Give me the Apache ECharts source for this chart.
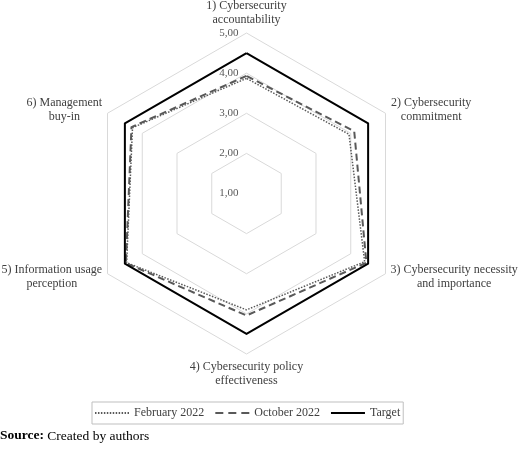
<!DOCTYPE html>
<html>
<head>
<meta charset="utf-8">
<script src="https://cdn.jsdelivr.net/npm/echarts@6/dist/echarts.min.js"></script>
<style>
  html, body { margin: 0; padding: 0; background: #fff; }
  #chart { width: 520px; height: 452px; }
</style>
</head>
<body>
<div id="chart"></div>
<script>
var categories = [
  '1) Cybersecurity\naccountability',
  '2) Cybersecurity\ncommitment',
  '3) Cybersecurity necessity\nand importance',
  '4) Cybersecurity policy\neffectiveness',
  '5) Information usage\nperception',
  '6) Management\nbuy-in'
];
var feb2022 = [3.87, 3.95, 4.40, 3.90, 4.45, 4.28];
var oct2022 = [3.93, 4.10, 4.45, 4.04, 4.47, 4.31];
var target = [4.50, 4.50, 4.50, 4.50, 4.50, 4.50];
var seriesNames = ['February 2022', 'October 2022', 'Target'];
var scaleMin = 1, scaleMax = 5;

(function () {
  var myChart = echarts.init(document.getElementById('chart'));
  var serif = '"Liberation Serif", "DejaVu Serif", serif';

  // echarts runs indicators counter-clockwise, the picture goes clockwise
  var order = [0, 5, 4, 3, 2, 1];
  function pick(arr) { return order.map(function (i) { return arr[i]; }); }

  // block width of the side labels so that their lines are centred
  var nameWidth = [0, 81, 127, 0, 101, 76];

  var indicator = order.map(function (i, k) {
    return {
      name: categories[i],
      min: scaleMin,
      max: scaleMax,
      axisLabel: { show: k === 0 }
    };
  });

  function dots(w, h, on, off) {
    var p = 'path://';
    for (var x = 0; x < w; x += on + off) {
      p += 'M' + x + ',0h' + on + 'v' + h + 'h-' + on + 'z';
    }
    return p;
  }

  var option = {
    animation: false,
    title: {
      text: '{b|Source:} Created by authors',
      left: 0,
      top: 429,
      padding: 0,
      textStyle: {
        fontFamily: serif,
        fontSize: 13.5,
        fontWeight: 'normal',
        color: '#000',
        rich: {
          b: { fontFamily: serif, fontSize: 13.5, fontWeight: 'bold', color: '#000' }
        }
      }
    },
    legend: {
      left: 92,
      top: 402,
      padding: [5, 3],
      itemGap: 11,
      itemWidth: 34,
      itemHeight: 2,
      borderColor: '#bfbfbf',
      borderWidth: 1,
      textStyle: { fontFamily: serif, fontSize: 12, color: '#404040' },
      itemStyle: { borderWidth: 0 },
      data: [
        { name: seriesNames[0], icon: dots(34, 2, 1.5, 1.5) },
        { name: seriesNames[1], icon: 'path://M0,0h8v2h-8z M13,0h8v2h-8z M26,0h8v2h-8z' },
        { name: seriesNames[2], icon: 'path://M0,0h34v2h-34z' }
      ]
    },
    radar: {
      center: [246.5, 193.5],
      radius: 160.5,
      startAngle: 90,
      splitNumber: 4,
      shape: 'polygon',
      indicator: indicator,
      nameGap: 6,
      axisName: {
        color: '#404040',
        fontFamily: serif,
        fontSize: 12,
        lineHeight: 14,
        formatter: function (name) {
          var idx = categories.indexOf(name);
          if (!nameWidth[idx]) return name;
          return name.split('\n').map(function (line) {
            return '{w' + idx + '|' + line + '}';
          }).join('\n');
        },
        rich: {
          w1: { width: nameWidth[1], align: 'center', fontFamily: serif, fontSize: 12, lineHeight: 14, color: '#404040' },
          w2: { width: nameWidth[2], align: 'center', fontFamily: serif, fontSize: 12, lineHeight: 14, color: '#404040' },
          w4: { width: nameWidth[4], align: 'center', fontFamily: serif, fontSize: 12, lineHeight: 14, color: '#404040' },
          w5: { width: nameWidth[5], align: 'center', fontFamily: serif, fontSize: 12, lineHeight: 14, color: '#404040' }
        }
      },
      axisLine: { show: false },
      axisTick: { show: false },
      axisLabel: {
        color: '#595959',
        fontFamily: serif,
        fontSize: 11,
        margin: 8,
        formatter: function (v) { return v.toFixed(2).replace('.', ','); }
      },
      splitLine: { lineStyle: { color: '#d9d9d9', width: 1 } },
      splitArea: { show: false }
    },
    series: [{
      type: 'radar',
      symbol: 'none',
      silent: true,
      data: [
        {
          name: seriesNames[0],
          value: pick(feb2022),
          itemStyle: { color: '#595959' },
          lineStyle: { color: '#595959', width: 1.5, type: [1.5, 1.5] }
        },
        {
          name: seriesNames[1],
          value: pick(oct2022),
          itemStyle: { color: '#595959' },
          lineStyle: { color: '#595959', width: 2, type: [7, 4] }
        },
        {
          name: seriesNames[2],
          value: pick(target),
          itemStyle: { color: '#000' },
          lineStyle: { color: '#000', width: 2 }
        }
      ]
    }]
  };
  myChart.setOption(option);
  window.addEventListener('resize', function () {
    myChart.resize();
  });
})();
</script>
</body>
</html>
